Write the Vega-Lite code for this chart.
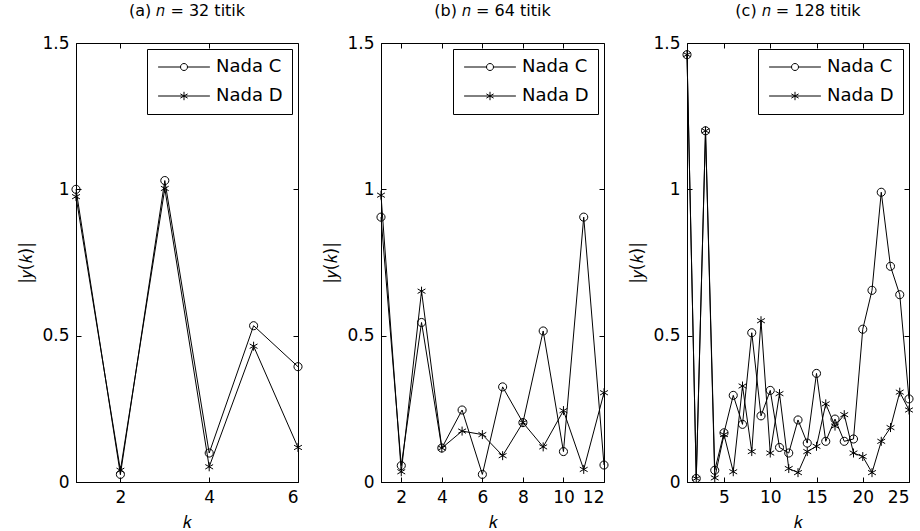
{
  "$schema": "https://vega.github.io/schema/vega-lite/v6.json",
  "padding": {"left": 17, "top": 2, "right": 0, "bottom": 0},
  "background": "white",
  "bounds": "flush",
  "spacing": 83,
  "datasets": {
    "a": [
      {"k": 1, "s": "Nada C", "v": 1.0}, {"k": 2, "s": "Nada C", "v": 0.026}, {"k": 3, "s": "Nada C", "v": 1.03},
      {"k": 4, "s": "Nada C", "v": 0.099}, {"k": 5, "s": "Nada C", "v": 0.534}, {"k": 6, "s": "Nada C", "v": 0.394},
      {"k": 1, "s": "Nada D", "v": 0.975}, {"k": 2, "s": "Nada D", "v": 0.04}, {"k": 3, "s": "Nada D", "v": 1.003},
      {"k": 4, "s": "Nada D", "v": 0.052}, {"k": 5, "s": "Nada D", "v": 0.464}, {"k": 6, "s": "Nada D", "v": 0.118}
    ],
    "b": [
      {"k": 1, "s": "Nada C", "v": 0.905}, {"k": 2, "s": "Nada C", "v": 0.056}, {"k": 3, "s": "Nada C", "v": 0.545},
      {"k": 4, "s": "Nada C", "v": 0.116}, {"k": 5, "s": "Nada C", "v": 0.246}, {"k": 6, "s": "Nada C", "v": 0.026},
      {"k": 7, "s": "Nada C", "v": 0.325}, {"k": 8, "s": "Nada C", "v": 0.203}, {"k": 9, "s": "Nada C", "v": 0.516},
      {"k": 10, "s": "Nada C", "v": 0.104}, {"k": 11, "s": "Nada C", "v": 0.905}, {"k": 12, "s": "Nada C", "v": 0.058},
      {"k": 1, "s": "Nada D", "v": 0.98}, {"k": 2, "s": "Nada D", "v": 0.035}, {"k": 3, "s": "Nada D", "v": 0.652},
      {"k": 4, "s": "Nada D", "v": 0.116}, {"k": 5, "s": "Nada D", "v": 0.174}, {"k": 6, "s": "Nada D", "v": 0.162},
      {"k": 7, "s": "Nada D", "v": 0.09}, {"k": 8, "s": "Nada D", "v": 0.203}, {"k": 9, "s": "Nada D", "v": 0.12},
      {"k": 10, "s": "Nada D", "v": 0.244}, {"k": 11, "s": "Nada D", "v": 0.043}, {"k": 12, "s": "Nada D", "v": 0.305}
    ],
    "c": [
      {"k": 1, "s": "Nada C", "v": 1.46}, {"k": 2, "s": "Nada C", "v": 0.012}, {"k": 3, "s": "Nada C", "v": 1.2},
      {"k": 4, "s": "Nada C", "v": 0.04}, {"k": 5, "s": "Nada C", "v": 0.168}, {"k": 6, "s": "Nada C", "v": 0.296},
      {"k": 7, "s": "Nada C", "v": 0.197}, {"k": 8, "s": "Nada C", "v": 0.51}, {"k": 9, "s": "Nada C", "v": 0.226},
      {"k": 10, "s": "Nada C", "v": 0.313}, {"k": 11, "s": "Nada C", "v": 0.118}, {"k": 12, "s": "Nada C", "v": 0.099},
      {"k": 13, "s": "Nada C", "v": 0.212}, {"k": 14, "s": "Nada C", "v": 0.133}, {"k": 15, "s": "Nada C", "v": 0.371},
      {"k": 16, "s": "Nada C", "v": 0.139}, {"k": 17, "s": "Nada C", "v": 0.215}, {"k": 18, "s": "Nada C", "v": 0.139},
      {"k": 19, "s": "Nada C", "v": 0.147}, {"k": 20, "s": "Nada C", "v": 0.522}, {"k": 21, "s": "Nada C", "v": 0.655},
      {"k": 22, "s": "Nada C", "v": 0.99}, {"k": 23, "s": "Nada C", "v": 0.737}, {"k": 24, "s": "Nada C", "v": 0.64},
      {"k": 25, "s": "Nada C", "v": 0.284},
      {"k": 1, "s": "Nada D", "v": 1.46}, {"k": 2, "s": "Nada D", "v": 0.012}, {"k": 3, "s": "Nada D", "v": 1.2},
      {"k": 4, "s": "Nada D", "v": 0.014}, {"k": 5, "s": "Nada D", "v": 0.162}, {"k": 6, "s": "Nada D", "v": 0.035},
      {"k": 7, "s": "Nada D", "v": 0.328}, {"k": 8, "s": "Nada D", "v": 0.104}, {"k": 9, "s": "Nada D", "v": 0.551},
      {"k": 10, "s": "Nada D", "v": 0.099}, {"k": 11, "s": "Nada D", "v": 0.302}, {"k": 12, "s": "Nada D", "v": 0.046},
      {"k": 13, "s": "Nada D", "v": 0.032}, {"k": 14, "s": "Nada D", "v": 0.104}, {"k": 15, "s": "Nada D", "v": 0.122},
      {"k": 16, "s": "Nada D", "v": 0.267}, {"k": 17, "s": "Nada D", "v": 0.191}, {"k": 18, "s": "Nada D", "v": 0.23},
      {"k": 19, "s": "Nada D", "v": 0.099}, {"k": 20, "s": "Nada D", "v": 0.087}, {"k": 21, "s": "Nada D", "v": 0.032},
      {"k": 22, "s": "Nada D", "v": 0.139}, {"k": 23, "s": "Nada D", "v": 0.186}, {"k": 24, "s": "Nada D", "v": 0.307},
      {"k": 25, "s": "Nada D", "v": 0.246}
    ]
  },
  "hconcat": [
    {
      "width": 222, "height": 439,
      "title": {"text": "(a) 𝑛 = 32 titik"},
      "data": {"name": "a"},
      "layer": [
        {"mark": {"type": "line", "stroke": "black", "strokeWidth": 1},
         "encoding": {
           "x": {"field": "k", "type": "quantitative", "scale": {"domain": [1, 6], "nice": false, "zero": false}, "axis": {"values": [2, 4, 6], "title": "𝑘"}},
           "y": {"field": "v", "type": "quantitative", "scale": {"domain": [0, 1.5], "nice": false}, "axis": {"values": [0, 0.5, 1, 1.5], "format": "~g", "title": "|𝑦(𝑘)|"}},
           "detail": {"field": "s"}
         }},
        {"transform": [{"filter": "datum.s === 'Nada C'"}],
         "mark": {"type": "point", "filled": false, "stroke": "black", "strokeWidth": 1, "opacity": 1, "size": 81, "shape": "M-0.9,0A0.9,0.9,0,1,1,0.9,0A0.9,0.9,0,1,1,-0.9,0"},
         "encoding": {
           "x": {"field": "k", "type": "quantitative", "axis": {"orient": "top", "values": [2, 4, 6], "labels": false, "title": null, "domain": false}},
           "y": {"field": "v", "type": "quantitative", "axis": {"orient": "right", "values": [0.5, 1], "labels": false, "title": null, "domain": false}}
         }},
        {"transform": [{"filter": "datum.s === 'Nada D'"}],
         "mark": {"type": "point", "filled": false, "stroke": "black", "strokeWidth": 1, "opacity": 1, "size": 81, "shape": "M0,-1L0,1M-0.87,-0.5L0.87,0.5M-0.87,0.5L0.87,-0.5"},
         "encoding": {
           "x": {"field": "k", "type": "quantitative", "axis": null},
           "y": {"field": "v", "type": "quantitative", "axis": null}
         }},
        {"mark": {"type": "point", "filled": false, "stroke": "black", "strokeWidth": 1, "opacity": 1, "size": 0},
         "encoding": {
           "x": {"field": "k", "type": "quantitative", "axis": null},
           "y": {"field": "v", "type": "quantitative", "axis": null},
           "shape": {"field": "s", "type": "nominal",
             "scale": {"domain": ["Nada C", "Nada D"], "range": ["M-3.7,0L-0.5,0M0.5,0L3.7,0M-0.5,0A0.5,0.5,0,1,1,0.5,0A0.5,0.5,0,1,1,-0.5,0", "M-3.7,0L3.7,0M0,-0.6L0,0.6M-0.52,-0.3L0.52,0.3M-0.52,0.3L0.52,-0.3"]},
             "legend": {"encode": {"symbols": {"size": {"value": 196}}}}}
         }}
      ],
      "resolve": {"axis": {"x": "independent", "y": "independent"}}
    },
    {
      "width": 223, "height": 439,
      "title": {"text": "(b) 𝑛 = 64 titik"},
      "data": {"name": "b"},
      "layer": [
        {"mark": {"type": "line", "stroke": "black", "strokeWidth": 1},
         "encoding": {
           "x": {"field": "k", "type": "quantitative", "scale": {"domain": [1, 12], "nice": false, "zero": false}, "axis": {"values": [2, 4, 6, 8, 10, 12], "title": "𝑘"}},
           "y": {"field": "v", "type": "quantitative", "scale": {"domain": [0, 1.5], "nice": false}, "axis": {"values": [0, 0.5, 1, 1.5], "format": "~g", "title": "|𝑦(𝑘)|"}},
           "detail": {"field": "s"}
         }},
        {"transform": [{"filter": "datum.s === 'Nada C'"}],
         "mark": {"type": "point", "filled": false, "stroke": "black", "strokeWidth": 1, "opacity": 1, "size": 81, "shape": "M-0.9,0A0.9,0.9,0,1,1,0.9,0A0.9,0.9,0,1,1,-0.9,0"},
         "encoding": {
           "x": {"field": "k", "type": "quantitative", "axis": {"orient": "top", "values": [2, 4, 6, 8, 10, 12], "labels": false, "title": null, "domain": false}},
           "y": {"field": "v", "type": "quantitative", "axis": {"orient": "right", "values": [0.5, 1], "labels": false, "title": null, "domain": false}}
         }},
        {"transform": [{"filter": "datum.s === 'Nada D'"}],
         "mark": {"type": "point", "filled": false, "stroke": "black", "strokeWidth": 1, "opacity": 1, "size": 81, "shape": "M0,-1L0,1M-0.87,-0.5L0.87,0.5M-0.87,0.5L0.87,-0.5"},
         "encoding": {
           "x": {"field": "k", "type": "quantitative", "axis": null},
           "y": {"field": "v", "type": "quantitative", "axis": null}
         }},
        {"mark": {"type": "point", "filled": false, "stroke": "black", "strokeWidth": 1, "opacity": 1, "size": 0},
         "encoding": {
           "x": {"field": "k", "type": "quantitative", "axis": null},
           "y": {"field": "v", "type": "quantitative", "axis": null},
           "shape": {"field": "s", "type": "nominal",
             "scale": {"domain": ["Nada C", "Nada D"], "range": ["M-3.7,0L-0.5,0M0.5,0L3.7,0M-0.5,0A0.5,0.5,0,1,1,0.5,0A0.5,0.5,0,1,1,-0.5,0", "M-3.7,0L3.7,0M0,-0.6L0,0.6M-0.52,-0.3L0.52,0.3M-0.52,0.3L0.52,-0.3"]},
             "legend": {"encode": {"symbols": {"size": {"value": 196}}}}}
         }}
      ],
      "resolve": {"axis": {"x": "independent", "y": "independent"}}
    },
    {
      "width": 222, "height": 439,
      "title": {"text": "(c) 𝑛 = 128 titik"},
      "data": {"name": "c"},
      "layer": [
        {"mark": {"type": "line", "stroke": "black", "strokeWidth": 1},
         "encoding": {
           "x": {"field": "k", "type": "quantitative", "scale": {"domain": [1, 25], "nice": false, "zero": false}, "axis": {"values": [5, 10, 15, 20, 25], "title": "𝑘"}},
           "y": {"field": "v", "type": "quantitative", "scale": {"domain": [0, 1.5], "nice": false}, "axis": {"values": [0, 0.5, 1, 1.5], "format": "~g", "title": "|𝑦(𝑘)|"}},
           "detail": {"field": "s"}
         }},
        {"transform": [{"filter": "datum.s === 'Nada C'"}],
         "mark": {"type": "point", "filled": false, "stroke": "black", "strokeWidth": 1, "opacity": 1, "size": 81, "shape": "M-0.9,0A0.9,0.9,0,1,1,0.9,0A0.9,0.9,0,1,1,-0.9,0"},
         "encoding": {
           "x": {"field": "k", "type": "quantitative", "axis": {"orient": "top", "values": [5, 10, 15, 20, 25], "labels": false, "title": null, "domain": false}},
           "y": {"field": "v", "type": "quantitative", "axis": {"orient": "right", "values": [0.5, 1], "labels": false, "title": null, "domain": false}}
         }},
        {"transform": [{"filter": "datum.s === 'Nada D'"}],
         "mark": {"type": "point", "filled": false, "stroke": "black", "strokeWidth": 1, "opacity": 1, "size": 81, "shape": "M0,-1L0,1M-0.87,-0.5L0.87,0.5M-0.87,0.5L0.87,-0.5"},
         "encoding": {
           "x": {"field": "k", "type": "quantitative", "axis": null},
           "y": {"field": "v", "type": "quantitative", "axis": null}
         }},
        {"mark": {"type": "point", "filled": false, "stroke": "black", "strokeWidth": 1, "opacity": 1, "size": 0},
         "encoding": {
           "x": {"field": "k", "type": "quantitative", "axis": null},
           "y": {"field": "v", "type": "quantitative", "axis": null},
           "shape": {"field": "s", "type": "nominal",
             "scale": {"domain": ["Nada C", "Nada D"], "range": ["M-3.7,0L-0.5,0M0.5,0L3.7,0M-0.5,0A0.5,0.5,0,1,1,0.5,0A0.5,0.5,0,1,1,-0.5,0", "M-3.7,0L3.7,0M0,-0.6L0,0.6M-0.52,-0.3L0.52,0.3M-0.52,0.3L0.52,-0.3"]},
             "legend": {"encode": {"symbols": {"size": {"value": 196}}}}}
         }}
      ],
      "resolve": {"axis": {"x": "independent", "y": "independent"}}
    }
  ],
  "resolve": {"scale": {"shape": "independent", "x": "independent", "y": "independent"}, "legend": {"shape": "independent"}},
  "config": {
    "font": "DejaVu Sans",
    "view": {"stroke": "black", "strokeWidth": 1},
    "title": {"fontSize": 16, "fontWeight": "normal", "color": "black", "offset": 15, "frame": "group"},
    "axis": {
      "grid": false, "domainColor": "black", "tickColor": "black", "tickSize": -5,
      "labelFontSize": 17, "labelColor": "black", "labelPadding": 12,
      "titleFontSize": 17, "titleFontWeight": "normal", "titleColor": "black"
    },
    "axisX": {"titlePadding": 9},
    "axisY": {"titlePadding": 6},
    "legend": {
      "orient": "top-right", "offset": 6, "title": null,
      "strokeColor": "black", "fillColor": "white", "padding": 9, "cornerRadius": 0,
      "labelFontSize": 18, "labelColor": "black", "rowPadding": 11,
      "symbolSize": 196, "symbolOffset": 19, "labelOffset": 23,
      "symbolStrokeColor": "black", "symbolStrokeWidth": 1, "symbolFillColor": "transparent"
    }
  }
}
